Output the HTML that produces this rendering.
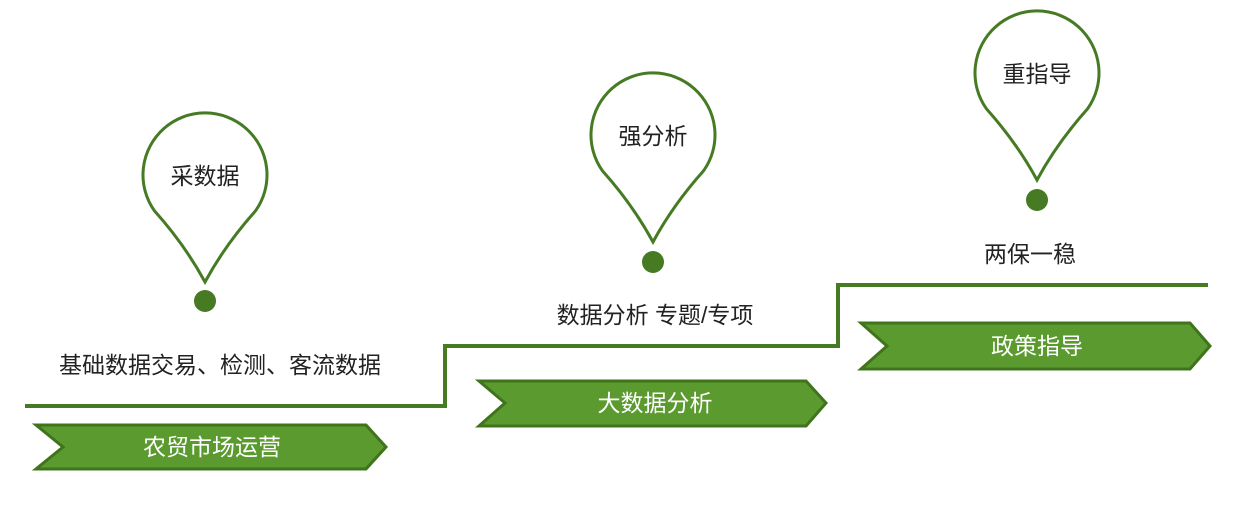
<!DOCTYPE html>
<html><head><meta charset="utf-8"><style>
html,body{margin:0;padding:0;background:#fff;}
text{font-family:"Liberation Sans","Microsoft YaHei","Noto Sans CJK SC",sans-serif;}
</style></head><body>
<svg width="1235" height="500" viewBox="0 0 1235 500" xmlns="http://www.w3.org/2000/svg">
<defs>
<g id="pin">
<path d="M-50.5,35.9 A62,62 0 1 1 50.5,35.9 Q20,70 0,107 Q-20,70 -50.5,35.9 Z" fill="#fff" stroke="#467a23" stroke-width="3" stroke-linejoin="miter"/>
</g>
</defs>
<polyline points="25,406 445,406 445,346 838,346 838,285 1208,285" fill="none" stroke="#467a23" stroke-width="4"/>
<use href="#pin" x="205" y="175"/>
<circle cx="205" cy="301" r="11" fill="#467a23"/>
<text x="205" y="184" font-size="23" text-anchor="middle" fill="#222">采数据</text>
<use href="#pin" x="653" y="135"/>
<circle cx="653" cy="262" r="11" fill="#467a23"/>
<text x="653" y="144" font-size="23" text-anchor="middle" fill="#222">强分析</text>
<use href="#pin" x="1037" y="73"/>
<circle cx="1037" cy="200" r="11" fill="#467a23"/>
<text x="1037" y="82" font-size="23" text-anchor="middle" fill="#222">重指导</text>
<text x="220" y="373" font-size="23" text-anchor="middle" fill="#222">基础数据交易、检测、客流数据</text>
<text x="655" y="323" font-size="23" text-anchor="middle" fill="#222">数据分析 专题/专项</text>
<text x="1030" y="262" font-size="23" text-anchor="middle" fill="#222">两保一稳</text>
<polygon points="36,425 366,425 386,447 366,469 36,469 63,447" fill="#5b9a2f" stroke="#3f741c" stroke-width="3"/>
<text x="212" y="455" font-size="23" text-anchor="middle" fill="#fff">农贸市场运营</text>
<polygon points="479,381 806,381 826,403 806,426 479,426 505,403" fill="#5b9a2f" stroke="#3f741c" stroke-width="3"/>
<text x="655" y="411" font-size="23" text-anchor="middle" fill="#fff">大数据分析</text>
<polygon points="861,323 1190,323 1210,346 1190,369 861,369 887,346" fill="#5b9a2f" stroke="#3f741c" stroke-width="3"/>
<text x="1037" y="354" font-size="23" text-anchor="middle" fill="#fff">政策指导</text>
</svg>
</body></html>
